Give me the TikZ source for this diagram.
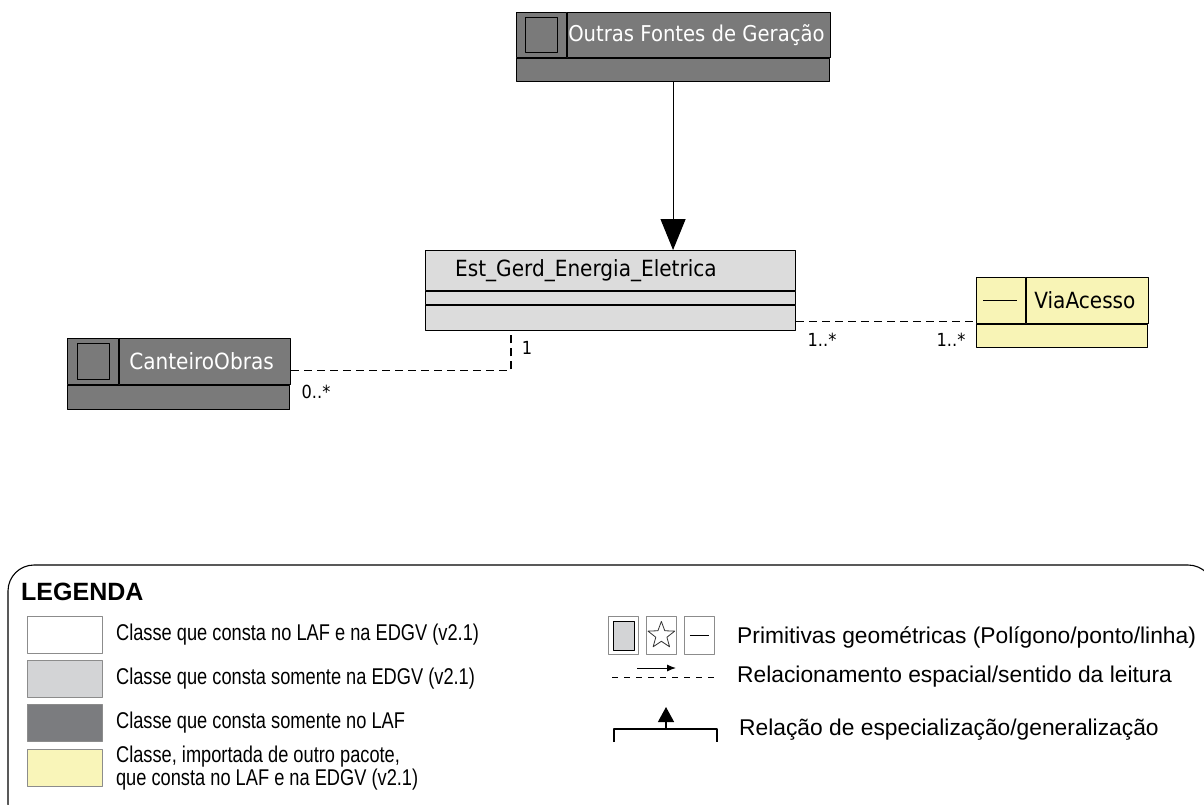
\documentclass[tikz,border=0pt]{standalone}
\usepackage{fontspec}
\setmainfont{Liberation Sans}
\newfontfamily\umlfont{DejaVu Sans}[FakeStretch=0.9]
\newfontfamily\legfont{Liberation Sans}[FakeStretch=0.8]
\usetikzlibrary{positioning,arrows.meta,shapes.geometric}
\definecolor{laf}{HTML}{7A7A7A}
\definecolor{edgv}{HTML}{DCDCDC}
\definecolor{importada}{HTML}{F8F4B6}
\definecolor{lafLeg}{HTML}{7B7C7F}
\definecolor{edgvLeg}{HTML}{D3D4D6}
\definecolor{importadaLeg}{HTML}{F9F5B9}
\definecolor{borda}{HTML}{8C8C8C}
\tikzset{
  celula/.style={draw=black, line width=1.1pt, inner sep=0pt, anchor=north west},
  nome/.style={font=\umlfont\fontsize{22.3}{26}\selectfont, inner sep=0pt},
  mult/.style={font=\umlfont\fontsize{18}{21}\selectfont, inner sep=0pt},
  tracejado/.style={line width=1.1pt, dash pattern=on 8pt off 5pt},
  amostra/.style={draw=borda, line width=0.9pt, anchor=north west, minimum width=75pt, minimum height=37pt, inner sep=0pt},
  icone/.style={draw=borda, line width=0.9pt, anchor=north west, minimum width=30pt, minimum height=38pt, inner sep=0pt},
  legtexto/.style={font=\legfont\fontsize{22.8}{22.5}\selectfont, inner sep=0pt, anchor=west, align=left},
  legdireita/.style={font=\fontsize{22.8}{26}\selectfont, inner sep=0pt, anchor=west},
}
\begin{document}
\begin{tikzpicture}[x=1pt, y=-1pt, line join=round, >=Stealth]
\useasboundingbox (0,0) rectangle (1204,804);
%\draw[gray!30] (0,0) grid[step=50] (1204,804);

% Outras Fontes de Geracao
\node[celula, fill=laf, minimum width=50pt, minimum height=45pt] (outrasIco) at (516,12) {};
\node[draw=black, line width=1.1pt, minimum width=32pt, minimum height=35pt, inner sep=0pt] (outrasQuad) at (outrasIco) {};
\node[celula, fill=laf, minimum width=263pt, minimum height=45pt, anchor=west] (outrasNome) at (outrasIco.east) {};
\node[nome, text=white, anchor=west, font=\umlfont\fontsize{21.8}{26}\selectfont] (outrasTxt) at ([xshift=1pt]outrasNome.west) {Outras Fontes de Geração};
\node[celula, fill=laf, minimum width=313pt, minimum height=23pt] (outrasCorpo) at (outrasIco.south west) {};

% Est_Gerd_Energia_Eletrica
\node[celula, fill=edgv, minimum width=370pt, minimum height=40pt] (estNome) at (425,250) {};
\node[nome, anchor=west] (estTxt) at ([xshift=30pt]estNome.west) {Est\_Gerd\_Energia\_Eletrica};
\node[celula, fill=edgv, minimum width=370pt, minimum height=13pt] (estMeio) at (estNome.south west) {};
\node[celula, fill=edgv, minimum width=370pt, minimum height=25pt] (estBase) at (estMeio.south west) {};

% CanteiroObras
\node[celula, fill=laf, minimum width=51pt, minimum height=46pt] (canteiroIco) at (67,338) {};
\node[draw=black, line width=1.1pt, minimum width=32pt, minimum height=36pt, inner sep=0pt] (canteiroQuad) at (canteiroIco) {};
\node[celula, fill=laf, minimum width=171pt, minimum height=46pt, anchor=west] (canteiroNome) at (canteiroIco.east) {};
\node[nome, text=white, anchor=west] (canteiroTxt) at ([xshift=10pt]canteiroNome.west) {CanteiroObras};
\node[celula, fill=laf, minimum width=222pt, minimum height=24pt] (canteiroCorpo) at (canteiroIco.south west) {};

% ViaAcesso
\node[celula, fill=importada, minimum width=49pt, minimum height=46pt] (viaIco) at (976,277) {};
\draw[line width=1.1pt] ([xshift=7pt]viaIco.west) -- ([xshift=-9pt]viaIco.east);
\node[celula, fill=importada, minimum width=122pt, minimum height=46pt, anchor=west] (viaNome) at (viaIco.east) {};
\node[nome, anchor=west] (viaTxt) at ([xshift=8pt]viaNome.west) {ViaAcesso};
\node[celula, fill=importada, minimum width=171pt, minimum height=23pt] (viaCorpo) at (viaIco.south west) {};

% relacionamentos
\draw[line width=1.1pt, -{Triangle[length=31pt, width=25pt]}] (outrasCorpo.south) -- (outrasCorpo.south |- estNome.north);
\draw[tracejado] ([yshift=-9pt]canteiroNome.east) -| ([xshift=86pt]estBase.south west);
\draw[tracejado] ([yshift=-3pt]estBase.east) -- ([yshift=-3pt]estBase.east -| viaIco.west);
\node[mult] (multEst) at (527,348) {1};
\node[mult] (multCanteiro) at (316,392) {0..*};
\node[mult] (multEstVia) at (822,340) {1..*};
\node[mult] (multVia) at (951,340) {1..*};

% legenda
\begin{scope}
\clip (0,0) rectangle (1204,804);
\draw[line width=1.1pt, rounded corners=26pt] (8,565) rectangle (1214,830);
\end{scope}
\node[font=\bfseries\fontsize{25}{26}\selectfont, inner sep=0pt, anchor=west] (legenda) at (21,592) {LEGENDA};
\foreach \cor/\topo/\texto [count=\i] in {white/616/{Classe que consta no LAF e na EDGV (v2.1)},
    edgvLeg/660/{Classe que consta somente na EDGV (v2.1)},
    lafLeg/704/{Classe que consta somente no LAF},
    importadaLeg/749/{Classe, importada de outro pacote,\\que consta no LAF e na EDGV (v2.1)}}{
  \node[amostra, fill=\cor] (amostra\i) at (27,\topo) {};
  \node[legtexto] (legTexto\i) at ([xshift=13pt]amostra\i.east) {\texto};
}

% primitivas
\node[icone, fill=white] (icoPoligono) at (608,616) {};
\node[draw=black, fill=edgvLeg, line width=0.9pt, minimum width=21pt, minimum height=29pt, inner sep=0pt] (icoPoligonoIn) at (icoPoligono) {};
\node[icone, fill=white, right=7pt of icoPoligono] (icoPonto) {};
\node[draw=black!80, line width=0.8pt, star, star points=5, star point ratio=2.4, minimum size=28pt, inner sep=0pt] (icoEstrela) at (icoPonto) {};
\node[icone, fill=white, right=7pt of icoPonto] (icoLinha) {};
\draw[line width=0.9pt] ([xshift=6pt]icoLinha.west) -- ([xshift=-6pt]icoLinha.east);
\node[legdireita] (legPrimitivas) at (737,637) {Primitivas geométricas (Polígono/ponto/linha)};

\coordinate (relIni) at (612,677);
\coordinate (relFim) at (718,677);
\coordinate (setaIni) at (637,668);
\coordinate (setaFim) at (676,668);
\draw[line width=1pt, dash pattern=on 6pt off 6pt] (relIni) -- (relFim);
\draw[line width=1pt, -{Latex[length=9pt, width=7pt]}] (setaIni) -- (setaFim);
\node[legdireita] (legRelacao) at (737,677) {Relacionamento espacial/sentido da leitura};

\coordinate (espEsq) at (614,742);
\coordinate (espDir) at (717,742);
\coordinate (espMeio) at (666,729);
\coordinate (espTopo) at (666,707);
\draw[line width=1.3pt] (espEsq) -- ++(0,-13) -| (espDir);
\draw[line width=1.3pt, -{Triangle[length=15pt, width=16pt]}] (espMeio) -- (espTopo);
\node[legdireita] (legEspecial) at (739,730) {Relação de especialização/generalização};
\end{tikzpicture}
\end{document}
